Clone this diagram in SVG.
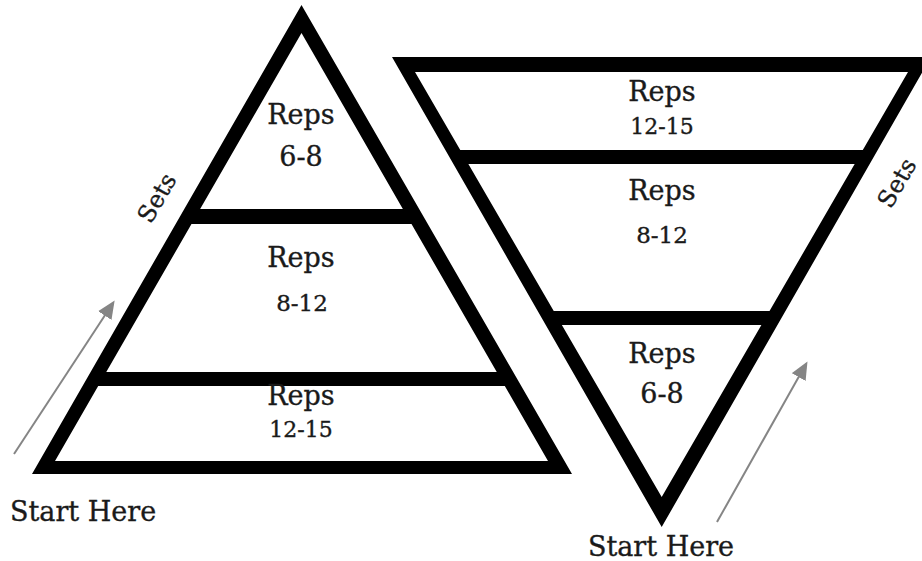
<svg xmlns="http://www.w3.org/2000/svg" width="922" height="561" viewBox="0 0 922 561">
<style>
  .frame { fill: #000; fill-rule: evenodd; }
  .band { fill: #000; }
  .lbl { font-family: "DejaVu Serif", "Liberation Serif", serif; fill: #1a1a1a; stroke: #1a1a1a; stroke-width: 0.35; text-anchor: middle; }
  .reps { font-size: 27px; }
  .n1 { font-size: 27px; }
  .n2 { font-size: 23px; }
  .n3 { font-size: 22px; }
  .sets { font-size: 24px; }
  .start { font-family: "DejaVu Serif", "Liberation Serif", serif; fill: #1a1a1a; stroke: #1a1a1a; stroke-width: 0.35; font-size: 27px; }
  .arrow { stroke: #858585; stroke-width: 2; fill: none; }
</style>
<defs>
  <marker id="ah" markerUnits="userSpaceOnUse" markerWidth="20" markerHeight="16" refX="15" refY="8" orient="auto">
    <path d="M0,0 L18,8 L0,16 Z" fill="#858585"/>
  </marker>
</defs>
<rect width="922" height="561" fill="#fff"/>

<g id="left-pyramid">
  <path class="frame" d="M301.5,5 L572,474 L32,474 Z M301.5,33 L55,461 L548,461 Z"/>
  <rect class="band" x="188" y="209" width="227" height="15"/>
  <rect class="band" x="94" y="372" width="415" height="14"/>
</g>
<g id="left-tier-top">
  <text class="lbl reps" x="301" y="124">Reps</text>
  <text class="lbl n1" x="301" y="166">6-8</text>
</g>
<g id="left-tier-middle">
  <text class="lbl reps" x="301" y="267">Reps</text>
  <text class="lbl n2" x="302" y="311">8-12</text>
</g>
<g id="left-tier-bottom">
  <text class="lbl reps" x="301" y="405">Reps</text>
  <text class="lbl n3" x="301" y="437">12-15</text>
</g>
<g id="left-sets">
  <text class="lbl sets" transform="translate(164,202) rotate(-60)">Sets</text>
</g>
<g id="left-start">
  <text class="start" x="10" y="521">Start Here</text>
</g>

<g id="right-pyramid">
  <path class="frame" d="M392,57 L931,57 L661.7,527 Z M415,72 L908,72 L661.7,497 Z"/>
  <rect class="band" x="457" y="150" width="409" height="14"/>
  <rect class="band" x="550" y="311" width="223" height="14"/>
</g>
<g id="right-tier-top">
  <text class="lbl reps" x="662" y="101">Reps</text>
  <text class="lbl n3" x="662" y="134">12-15</text>
</g>
<g id="right-tier-middle">
  <text class="lbl reps" x="662" y="200">Reps</text>
  <text class="lbl n2" x="662" y="243">8-12</text>
</g>
<g id="right-tier-bottom">
  <text class="lbl reps" x="662" y="363">Reps</text>
  <text class="lbl n1" x="662" y="403">6-8</text>
</g>
<g id="right-sets">
  <text class="lbl sets" transform="translate(904,187) rotate(-60)">Sets</text>
</g>
<g id="right-start">
  <text class="lbl start" x="661" y="556">Start Here</text>
</g>

<g id="connectors">
  <line class="arrow" x1="14" y1="454" x2="113" y2="303" marker-end="url(#ah)"/>
  <line class="arrow" x1="717" y1="522" x2="806" y2="364" marker-end="url(#ah)"/>
</g>
</svg>
